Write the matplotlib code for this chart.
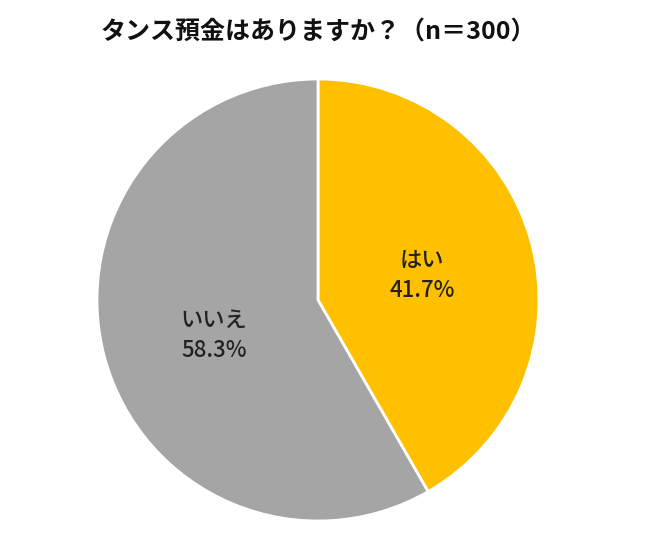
import matplotlib
matplotlib.use("Agg")
from matplotlib import pyplot as plt

plt.rcParams['font.family'] = ['Noto Sans CJK JP', 'DejaVu Sans']

labels = ["はい", "いいえ"]
values = [41.7, 58.3]
colors = ["#FFC000", "#A5A5A5"]
title = "タンス預金はありますか？（n＝300）"

fig = plt.figure(figsize=(6.48, 5.34), dpi=100)
ax = fig.add_axes([(318 - 221) / 648, (534 - 521) / 534, 442 / 648, 442 / 534])
ax.pie(values, colors=colors, startangle=90, counterclock=False, radius=1,
       wedgeprops=dict(edgecolor="white", linewidth=2))
ax.set_xlim(-1, 1)
ax.set_ylim(-1, 1)
ax.set_aspect("equal")

# label positions relative to pie center
ax.text(0.47, 0.11, f"{labels[0]}\n{values[0]}%", ha="center", va="center",
        fontsize=16, fontweight="medium", color="#222222", linespacing=1.4)
ax.text(-0.47, -0.16, f"{labels[1]}\n{values[1]}%", ha="center", va="center",
        fontsize=16, fontweight="medium", color="#222222", linespacing=1.4)

fig.text(318 / 648, 1 - 32 / 534, title, ha="center", va="center",
         fontsize=18, fontweight="bold", color="#111111")

fig.savefig("out.png", dpi=100)
